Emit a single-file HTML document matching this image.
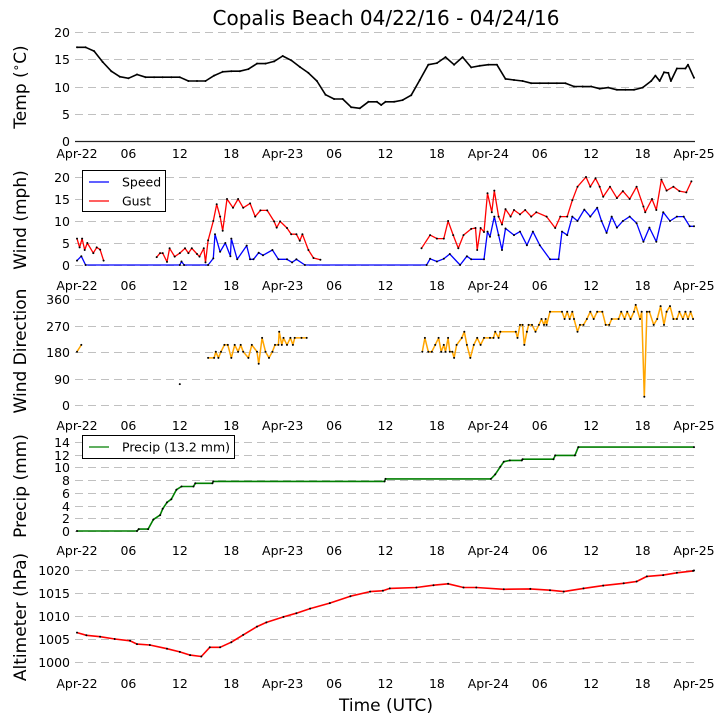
<!DOCTYPE html>
<html><head><meta charset="utf-8">
<style>
html,body{margin:0;padding:0;background:#fff;}
svg{display:block;font-family:"DejaVu Sans","Liberation Sans",sans-serif;}
</style></head>
<body>
<svg id="chart" width="725" height="725" viewBox="0 0 725 725" xmlns="http://www.w3.org/2000/svg">
<rect x="0" y="0" width="725" height="725" fill="#fff"/>
<text x="386" y="25" font-size="20" text-anchor="middle">Copalis Beach 04/22/16 - 04/24/16</text>
<text x="386" y="711" font-size="17" text-anchor="middle">Time (UTC)</text>
<text transform="translate(26,87) rotate(-90)" font-size="17" text-anchor="middle">Temp (<tspan font-size="12" dy="-6">∘</tspan><tspan dy="6">C)</tspan></text>
<text transform="translate(26,220) rotate(-90)" font-size="17" text-anchor="middle">Wind (mph)</text>
<text transform="translate(26,351) rotate(-90)" font-size="17" text-anchor="middle">Wind Direction</text>
<text transform="translate(26,486) rotate(-90)" font-size="17" text-anchor="middle">Precip (mm)</text>
<text transform="translate(26,617) rotate(-90)" font-size="17" text-anchor="middle">Altimeter (hPa)</text>
<g id="plots"></g>
<g>
<rect x="82.5" y="170.5" width="83" height="41" fill="#fff" stroke="#000"/>
<line x1="89" y1="182" x2="109" y2="182" stroke="#0000ff" stroke-width="1.3"/>
<text x="122" y="186.5" font-size="12.5">Speed</text>
<line x1="89" y1="201" x2="109" y2="201" stroke="#ff0000" stroke-width="1.3"/>
<text x="122" y="205.5" font-size="12.5">Gust</text>
</g>
<g>
<rect x="82.5" y="435.5" width="152" height="23" fill="#fff" stroke="#000"/>
<line x1="89" y1="447" x2="109" y2="447" stroke="#007f00" stroke-width="1.3"/>
<text x="122" y="451.5" font-size="12.5">Precip (13.2 mm)</text>
</g>
</svg>
<script>
const xTickLabels = ["Apr-22","06","12","18","Apr-23","06","12","18","Apr-24","06","12","18","Apr-25"];
const xTickHours = [0,6,12,18,24,30,36,42,48,54,60,66,72];

const tempHours = [0,1,2,3,4,5,6,7,8,9,10,11,12,13,14,15,16,17,18,19,20,21,22,23,24,25,26,27,28,29,30,31,32,33,34,35,35.5,36,37,38,39,40,41,42,43,44,45,46,47,48,49,50,51,52,53,54,55,56,57,58,59,60,61,62,63,64,65,66,67,67.5,68,68.5,69,69.3,70,71,71.3,72];
const tempVals = [17.2,17.2,16.5,14.5,12.8,11.8,11.5,12.2,11.7,11.7,11.7,11.7,11.7,11,11,11,12,12.7,12.8,12.8,13.2,14.2,14.2,14.6,15.6,14.8,13.6,12.5,11,8.5,7.7,7.7,6.2,6,7.2,7.2,6.6,7.2,7.2,7.5,8.4,11.2,14,14.3,15.4,14,15.4,13.5,13.8,14,14,11.4,11.2,11,10.6,10.6,10.6,10.6,10.6,10,10,10,9.6,9.8,9.4,9.4,9.4,9.8,11,12,11,12.6,12.5,11,13.3,13.3,14,11.6];

const speedHours = [0,0.5,1,12,12.2,12.5,15.3,15.9,16.1,16.7,17.3,17.9,18,18.7,19.8,20.2,20.6,21.2,21.7,22.8,23.5,24.5,25.1,25.6,26.6,40.8,41.2,42,42.8,43.5,44.7,45.5,46,47.5,47.9,48.2,48.7,49.2,49.6,50,51,51.7,52.5,53.2,54,55.2,56.2,56.6,57.2,57.8,58.4,59.2,59.9,60.7,61.2,61.8,62.4,63,63.7,64.5,65.3,66.1,66.8,67.6,68.4,69.2,70,70.8,71.5,72];
const speedVals = [1,2,0,0,0.8,0,0,1.5,7,3,5,2,6,1.3,4.4,1.3,1.3,2.8,2.2,3.4,1.3,1.3,0.6,1.3,0,0,1.4,0.8,1.4,2.5,0,2,1.3,1.3,7.6,6.4,11,6.8,3.4,8.3,6.8,7.6,4.5,7.6,4.5,1.3,1.3,7.6,6.8,11,10,12.6,11,13,10,7.3,11,8.5,10,11,9.5,5.3,8.5,5.3,12,10,11,11,8.8,8.8];

const gustHours = [0,0.3,0.6,0.9,1.2,1.9,2.3,2.7,3.1,5,9.3,9.7,10,10.5,10.8,11.4,12,12.6,13,13.4,14,14.3,14.8,15,15.3,15.9,16.3,16.7,17,17.5,18.2,18.8,19.4,20.2,20.8,21.4,22.2,23,23.3,23.7,24.5,25,25.6,26,26.3,27,27.6,28.4,34,40.2,41.2,42,42.8,43.3,43.9,44.5,45.1,46,46.5,46.7,47.1,47.5,47.9,48.4,48.7,49.2,49.6,50,50.6,51,51.7,52.3,53,53.6,54.8,55.8,56.4,57.2,57.8,58.4,59.4,59.9,60.5,61,61.4,62.2,63,63.7,64.5,65.3,66.1,66.3,67.1,67.6,68.2,68.8,69.6,70.3,71.1,71.7];
const gustVals = [6,4,6,3.4,5,2.7,4,3.5,1,null,1.8,2.7,2.7,0.7,3.8,1.9,2.7,3.8,2.7,3.8,2.5,1.9,3.8,0.6,5.6,10,13.8,11,7.8,15,13,15,13,14,11,12.4,12.4,9.9,8.5,9.9,8.4,7,7,5.5,7,3.4,1.6,1.2,null,3.8,6.8,6,6,10,6.8,3.8,6.8,8.2,8.4,3.4,8.4,7.5,16.3,12,16.9,11,9.2,12.7,11,12.5,11.5,12.5,11,12,11,8.4,11,11,14.7,17.8,20,17.8,19.7,17.8,15.5,17.8,15.2,16.8,15,17.8,13.3,12,15,12.5,19.4,16.9,17.8,16.8,16.5,19];

const dirHours = [0,0.5,6,12,14,15.3,16,16.2,16.5,16.8,17.2,17.6,18,18.4,18.8,19.1,19.4,20,20.4,21,21.2,21.6,22,22.4,22.8,23.1,23.5,23.6,23.9,24.1,24.5,24.9,25.2,25.4,26.2,26.8,33,40.3,40.6,41,41.4,41.8,42.2,42.5,42.8,43,43.3,43.5,43.8,44,44.3,44.9,45.2,45.5,45.9,46.3,46.7,47.1,47.5,48.2,48.6,48.8,49.2,49.4,51.2,51.4,51.7,52,52.2,52.5,52.7,53.1,53.5,53.9,54.2,54.5,54.7,54.8,55.2,56.6,56.9,57.2,57.5,57.8,58,58.4,58.7,59.1,59.5,59.9,60.3,60.7,61.3,61.7,62.1,62.4,63.2,63.5,63.9,64.2,64.6,65,65.2,65.7,65.9,66.2,66.5,66.8,67.3,67.7,68.1,68.5,68.8,69.2,69.6,70,70.3,70.7,71,71.3,71.6,71.9];
const dirVals = [181,204,null,71,null,160,160,181,160,181,204,204,160,204,181,204,181,160,204,181,140,228,181,160,181,204,204,249,204,228,204,228,204,228,228,228,null,181,228,181,181,204,228,181,204,181,228,181,181,160,204,228,249,204,160,204,228,204,228,228,228,249,228,249,249,228,272,272,204,249,272,272,249,272,292,272,292,272,317,317,292,317,292,317,292,249,272,272,292,317,292,317,317,272,272,292,292,317,292,317,292,317,340,292,317,28,317,317,272,292,336,272,317,336,292,292,317,292,317,292,317,292];

const precipHours = [0,7,7.2,8.3,8.9,9.7,10,10.5,11,11.6,12.2,13.6,13.8,15.8,15.9,35.9,36,48.3,48.8,49.4,49.8,50.5,51.9,52,55.6,55.8,58.1,58.5,72];
const precipVals = [0,0,0.3,0.3,1.8,2.5,3.5,4.5,5,6.5,7,7,7.5,7.5,7.8,7.8,8.2,8.2,8.9,10.1,10.9,11.1,11.1,11.3,11.3,11.9,11.9,13.2,13.2];

const altHours = [0,1.1,2.7,4.4,6.2,7,8.5,10.5,12,13.2,14.5,15.5,16.7,18,19.4,21,22.1,24.1,25.6,27.2,29.5,31.9,34.2,35.7,36.5,39.6,41.6,43.3,45.1,46.6,49.8,52.9,55.2,56.8,59.1,61.4,63.8,65.3,66.5,68.4,70,71.9,72];
const altVals = [1006.4,1005.8,1005.5,1005,1004.6,1003.9,1003.7,1002.9,1002.2,1001.5,1001.2,1003.2,1003.2,1004.3,1005.9,1007.7,1008.6,1009.8,1010.6,1011.6,1012.8,1014.3,1015.3,1015.5,1016,1016.2,1016.7,1017,1016.2,1016.2,1015.8,1015.9,1015.6,1015.3,1016,1016.6,1017.1,1017.5,1018.6,1018.9,1019.4,1019.8,1019.9];

const tempTicks = [0,5,10,15,20];
const windTicks = [0,5,10,15,20];
const dirTicks = [0,90,180,270,360];
const precipTicks = [0,2,4,6,8,10,12,14];
const altTicks = [1000,1005,1010,1015,1020];

const NS = "http://www.w3.org/2000/svg";
const plots = document.getElementById("plots");
const X0 = 77, X1 = 694;
function xScale(h){ return X0 + (X1 - X0) * h / 72; }
function mk(tag, attrs, parent){
  const e = document.createElementNS(NS, tag);
  for (const k in attrs) e.setAttribute(k, attrs[k]);
  (parent || plots).appendChild(e);
  return e;
}
function makeY(vMin, yMin, vMax, yMax){ return v => yMin + (v - vMin) * (yMax - yMin) / (vMax - vMin); }

function axes(name, ticks, yS, labelY, solidZero){
  const g = mk("g", {});
  
  
  ticks.forEach((t, i) => {
    const y = Math.round(yS(t)) + 0.5;
    const solid = solidZero && i === 0;
    const ln = mk("line", {x1: 75, x2: 695, y1: y, y2: y, stroke: solid ? "#222" : "#c0c0c0", "stroke-width": solid ? 1.2 : 1, "stroke-dasharray": solid ? "none" : "8,5"}, g);
    
    
    const tx = mk("text", {x: 70, y: y + 4.5, "font-size": 12.5, "text-anchor": "end"}, g);
    tx.textContent = String(t);
    
    
  });
  xTickHours.forEach((h, i) => {
    const tx = mk("text", {x: xScale(h), y: labelY, "font-size": 12.5, "text-anchor": "middle"}, g);
    tx.textContent = xTickLabels[i];
    
    
  });
}

function series(name, hours, vals, yS, color, width){
  const g = mk("g", {});
  
  
  let d = "", pen = false;
  hours.forEach((h, i) => {
    const v = vals[i];
    if (v === null || v === undefined) { pen = false; return; }
    d += (pen ? "L" : "M") + xScale(h).toFixed(1) + "," + yS(v).toFixed(1);
    pen = true;
  });
  const p = mk("path", {d: d, fill: "none", stroke: color, "stroke-width": width || 1.5, "stroke-linejoin": "round"}, g);
  
  
  hours.forEach((h, i) => {
    const v = vals[i];
    if (v === null || v === undefined) return;
    const c = mk("circle", {cx: xScale(h).toFixed(1), cy: yS(v).toFixed(1), r: 1, fill: "#000"}, g);
    
    
  });
}

const yTemp = makeY(0, 141, 20, 32);
const yWind = makeY(0, 265, 20, 177);
const yDir = makeY(0, 405, 360, 299);
const yPrecip = makeY(0, 531, 14, 442);
const yAlt = makeY(1000, 662, 1020, 570);

axes("temp", tempTicks, yTemp, 158, true);
axes("wind", windTicks, yWind, 290, false);
axes("direction", dirTicks, yDir, 430, false);
axes("precip", precipTicks, yPrecip, 555, false);
axes("altimeter", altTicks, yAlt, 688, false);

series("temp", tempHours, tempVals, yTemp, "#000", 1.6);
series("speed", speedHours, speedVals, yWind, "#0000ff", 1.3);
series("gust", gustHours, gustVals, yWind, "#ff0000", 1.3);
series("direction", dirHours, dirVals, yDir, "#ffa500", 1.5);
series("precip", precipHours, precipVals, yPrecip, "#007f00", 1.6);
series("altimeter", altHours, altVals, yAlt, "#ff0000", 1.6);
</script>
</body></html>
